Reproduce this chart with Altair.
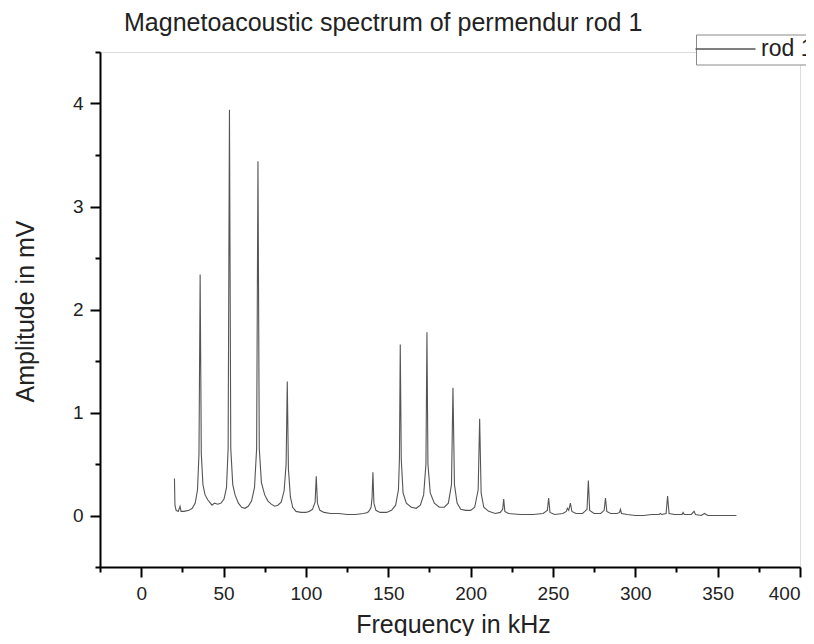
import altair as alt
import pandas as pd

# Values (frequency in kHz, amplitude in mV)
freq = [20.2, 20.5, 21.2, 22.5, 23.6, 24.2, 26, 29, 31, 32.8, 34.2, 35.1, 35.8, 36.5, 37.5,
        38.8, 40.5, 42, 43, 44.5, 46.5, 48.5, 50.3, 51.8, 52.8, 53.6, 54.4, 55.6, 57, 59,
        61, 63, 65, 67, 68.8, 70.1, 70.9, 71.7, 73, 75, 77, 79, 81, 83, 85,
        86.8, 88.0, 88.7, 89.4, 90.6, 92, 94, 97, 100, 102, 104, 105.6, 106.3, 107.0, 108.5,
        111, 115, 120, 125, 130, 135, 137.5, 138.6, 139.6, 140.2, 140.7, 141.3, 142.5, 145, 149,
        152, 154.5, 156.2, 156.8, 157.3, 157.9, 159, 161, 164, 167, 169.5, 171.5, 172.9, 173.5, 174.1,
        175.5, 178, 181, 184, 186.5, 188.4, 189.3, 190.2, 191.8, 194, 197, 200, 202.5, 204.6, 205.5,
        206.4, 208, 211, 215, 218, 219.5, 220.1, 220.8, 223, 230, 238, 244, 246.6, 247.4, 248.2,
        251, 256, 258.1, 258.8, 259.6, 260.6, 261.5, 264, 268, 270.7, 271.5, 272.3, 275, 279, 281.1,
        281.9, 282.7, 285, 289, 290.4, 291, 291.6, 295, 300, 305, 310, 314.5, 315.2, 316, 318.7,
        319.6, 320.5, 324, 328.4, 329, 329.7, 334, 335.7, 336.5, 340, 342, 344, 350, 355, 361.4]

amp = [0.36, 0.10, 0.05, 0.04, 0.09, 0.04, 0.04, 0.05, 0.07, 0.12, 0.25, 0.6, 2.34, 0.6, 0.3,
       0.2, 0.15, 0.12, 0.10, 0.12, 0.11, 0.12, 0.16, 0.27, 0.65, 3.94, 0.65, 0.3, 0.2, 0.12,
       0.08, 0.07, 0.09, 0.14, 0.27, 0.65, 3.44, 0.65, 0.32, 0.2, 0.14, 0.11, 0.09, 0.1, 0.13,
       0.24, 0.5, 1.30, 0.45, 0.18, 0.08, 0.04, 0.03, 0.03, 0.04, 0.06, 0.13, 0.38, 0.12, 0.05,
       0.03, 0.02, 0.02, 0.01, 0.01, 0.02, 0.03, 0.05, 0.08, 0.18, 0.42, 0.12, 0.05, 0.03, 0.03,
       0.05, 0.1, 0.25, 0.55, 1.66, 0.55, 0.22, 0.12, 0.08, 0.07, 0.1, 0.2, 0.5, 1.78, 0.5,
       0.22, 0.12, 0.08, 0.08, 0.12, 0.3, 1.24, 0.3, 0.12, 0.06, 0.05, 0.05, 0.08, 0.25, 0.94,
       0.22, 0.08, 0.04, 0.02, 0.03, 0.06, 0.16, 0.04, 0.02, 0.01, 0.01, 0.02, 0.05, 0.17, 0.03,
       0.01, 0.02, 0.04, 0.07, 0.05, 0.12, 0.04, 0.02, 0.02, 0.06, 0.34, 0.05, 0.02, 0.02, 0.05,
       0.17, 0.04, 0.02, 0.02, 0.03, 0.06, 0.02, 0.01, 0.0, 0.0, 0.01, 0.01, 0.02, 0.01, 0.02,
       0.19, 0.02, 0.01, 0.01, 0.03, 0.01, 0.01, 0.04, 0.01, 0.0, 0.02, 0.0, 0.0, 0.0, 0.0]

series_name = "rod 1"
chart_title = "Magnetoacoustic spectrum of permendur rod 1"
x_major = [0, 50, 100, 150, 200, 250, 300, 350, 400]
x_minor = [-25, 25, 75, 125, 175, 225, 275, 325, 375]
y_major = [0, 1, 2, 3, 4]
y_minor = [-0.5, 0.5, 1.5, 2.5, 3.5, 4.5]

n = min(len(freq), len(amp))
df = pd.DataFrame({"f": freq[:n], "a": amp[:n], "s": [series_name] * n})

FONT = "Liberation Sans"
TXT = "#222222"
x_scale = alt.Scale(domain=[-25, 400], nice=False, zero=False)
y_scale = alt.Scale(domain=[-0.5, 4.5], nice=False, zero=False)

x_axis = alt.Axis(
    orient="bottom", values=x_major, format="d", tickSize=10, labelPadding=7,
    grid=False, domainColor="black", domainWidth=2, tickColor="black", tickWidth=2,
    labelFont=FONT, labelFontSize=19, labelColor=TXT,
    title="Frequency in kHz", titleFont=FONT, titleFontSize=25, titleFontWeight="normal",
    titleColor=TXT, titleX=353, titleY=65, titleBaseline="alphabetic", titleAlign="center",
)

y_axis = alt.Axis(
    orient="left", values=y_major, format="d", tickSize=10, labelPadding=7,
    grid=False, domainColor="black", domainWidth=2, tickColor="black", tickWidth=2,
    labelFont=FONT, labelFontSize=19, labelColor=TXT,
    title="Amplitude in mV", titleFont=FONT, titleFontSize=25, titleFontWeight="normal",
    titleColor=TXT, titleX=-67, titleY=259, titleBaseline="alphabetic", titleAlign="center",
    titleAngle=-90,
)

x_minor_axis = alt.Axis(orient="bottom", values=x_minor, tickSize=5, tickColor="black",
                        tickWidth=2, labels=False, domain=False, grid=False, title=None)
y_minor_axis = alt.Axis(orient="left", values=y_minor, tickSize=5, tickColor="black",
                        tickWidth=2, labels=False, domain=False, grid=False, title=None)

legend = alt.Legend(
    orient="none", legendX=596, legendY=-17.5, title=None,
    symbolType="M-3,0H3", symbolSize=400, symbolOffset=15, symbolStrokeWidth=1.5,
    labelOffset=24, labelFont=FONT, labelFontSize=23, labelColor=TXT,
    strokeColor="#8a8a8a", fillColor="white", padding=3,
)

spectrum = alt.Chart(df).mark_line(strokeWidth=1.1, clip=True).encode(
    x=alt.X("f:Q", scale=x_scale, axis=x_axis),
    y=alt.Y("a:Q", scale=y_scale, axis=y_axis),
    color=alt.Color("s:N", scale=alt.Scale(domain=[series_name], range=["#555555"]), legend=legend),
)

minor_ticks = alt.Chart(df).mark_line(opacity=0).encode(
    x=alt.X("f:Q", scale=x_scale, axis=x_minor_axis),
    y=alt.Y("a:Q", scale=y_scale, axis=y_minor_axis),
)

title_text = alt.Chart(pd.DataFrame({"t": [chart_title]})).mark_text(
    align="left", baseline="alphabetic", font=FONT, fontSize=25, color=TXT,
).encode(text="t:N", x=alt.value(24), y=alt.value(-21))

chart = alt.layer(spectrum, minor_ticks, title_text).resolve_axis(
    x="independent", y="independent"
).properties(
    width=700,
    height=515,
    padding={"left": 92, "top": 44, "right": 6, "bottom": 69},
    autosize=alt.AutoSizeParams(type="none"),
).configure_view(stroke=None).configure(background="white")

chart.save("out.html", embed_options={"renderer": "svg", "actions": False})
